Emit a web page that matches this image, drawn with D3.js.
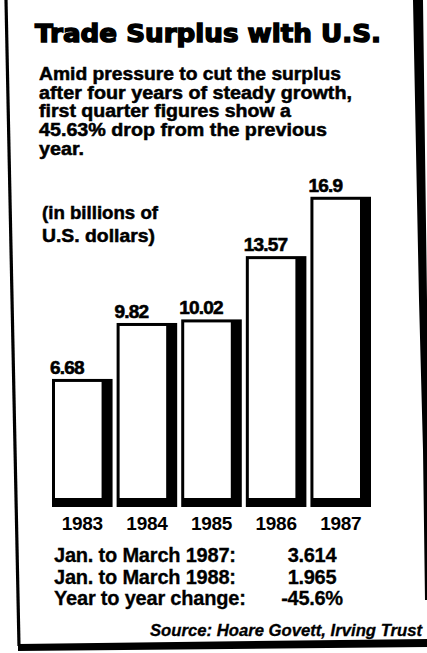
<!DOCTYPE html>
<html>
<head>
<meta charset="utf-8">
<script src="https://cdn.jsdelivr.net/npm/d3@7"></script>
<style>
  html, body { margin: 0; padding: 0; background: #fff; }
  svg { display: block; }
  text { fill: #000; font-family: "Liberation Sans", Arial, sans-serif; }
</style>
</head>
<body>
<script>
// ---- data ----
const years = ["1983", "1984", "1985", "1986", "1987"];
const values = [6.68, 9.82, 10.02, 13.57, 16.9];
const valueLabels = ["6.68", "9.82", "10.02", "13.57", "16.9"];
const titleText = "Trade Surplus with U.S.";
const subtitleLines = [
  "Amid pressure to cut the surplus",
  "after four years of steady growth,",
  "first quarter figures show a",
  "45.63% drop from the previous",
  "year."
];
const unitLines = ["(in billions of", "U.S. dollars)"];
const tableLabels = ["Jan. to March 1987:", "Jan. to March 1988:", "Year to year change:"];
const tableValues = ["3.614", "1.965", "-45.6%"];
const sourceText = "Source: Hoare Govett, Irving Trust";

// ---- layout ----
const W = 427, H = 653;
const svg = d3.select("body").append("svg").attr("width", W).attr("height", H);

const baseY = 498;      // bottom of the white bar interior
const shadowB = 9;      // bottom shadow thickness
const shadowR = 11;     // right shadow thickness
const stroke = 3;       // outline thickness

const x = d3.scaleBand().domain(years).range([52, 371]).paddingInner(0.0625);
const y = d3.scaleLinear().domain([0, 17]).range([baseY, 195]);

// frame (hand-drawn, slightly skewed)
svg.append("line").attr("x1", 6).attr("y1", 0).attr("x2", 19).attr("y2", 646)
  .attr("stroke", "#000").attr("stroke-width", 3.2);
svg.append("path")
  .attr("d", "M413,0 L423,0 L427,300 L427,600 L425,600 L423,450 L419,300 Z")
  .attr("fill", "#000");
svg.append("path")
  .attr("d", "M18,644 L427,639 L427,647 L18,651 Z")
  .attr("fill", "#000");

// title
svg.append("text")
  .attr("x", 35).attr("y", 42)
  .attr("textLength", 346).attr("lengthAdjust", "spacingAndGlyphs")
  .style("font-family", "'DejaVu Sans', sans-serif")
  .style("font-weight", "bold").style("font-size", "24px")
  .style("stroke", "#000").style("stroke-width", 1.4)
  .text(titleText);

// subtitle
const subWidths = [302, 313, 252, 288, 45];
const subY = [80, 98.5, 117, 136, 155];
svg.append("g").selectAll("text").data(subtitleLines).join("text")
  .attr("x", 39).attr("y", (d, i) => subY[i])
  .attr("textLength", (d, i) => subWidths[i]).attr("lengthAdjust", "spacingAndGlyphs")
  .style("font-weight", "bold").style("font-size", "18px")
  .style("stroke", "#000").style("stroke-width", 0.5)
  .text(d => d);

// units note
const unitY = [219, 242];
const unitW = [116, 113];
svg.append("g").selectAll("text").data(unitLines).join("text")
  .attr("x", 42).attr("y", (d, i) => unitY[i])
  .attr("textLength", (d, i) => unitW[i]).attr("lengthAdjust", "spacingAndGlyphs")
  .style("font-weight", "bold").style("font-size", "18px")
  .style("stroke", "#000").style("stroke-width", 0.5)
  .text(d => d);

// bars
const bars = svg.append("g").selectAll("g").data(values).join("g");
bars.append("rect")
  .attr("x", (d, i) => x(years[i]))
  .attr("y", d => y(d))
  .attr("width", x.bandwidth())
  .attr("height", d => baseY + shadowB - y(d))
  .attr("fill", "#000");
bars.append("rect")
  .attr("x", (d, i) => x(years[i]) + stroke)
  .attr("y", d => y(d) + stroke)
  .attr("width", x.bandwidth() - stroke - shadowR)
  .attr("height", d => baseY - y(d) - stroke)
  .attr("fill", "#fff");

// value labels
bars.append("text")
  .attr("x", (d, i) => x(years[i]) - 2)
  .attr("y", d => y(d) - 5)
  .style("font-weight", "bold").style("font-size", "19px")
  .style("letter-spacing", "-0.8px")
  .style("stroke", "#000").style("stroke-width", 0.6)
  .text((d, i) => valueLabels[i]);

// year axis
const axis = svg.append("g")
  .attr("transform", `translate(0,${baseY + shadowB})`)
  .call(d3.axisBottom(x).tickSize(0).tickPadding(10));
axis.select(".domain").remove();
axis.selectAll("text")
  .style("font-family", "'Liberation Sans', Arial, sans-serif")
  .style("font-size", "19px").style("font-weight", "bold")
  .style("letter-spacing", "-0.3px")
  .attr("fill", "#000");

// table
const rowY = [562, 583.5, 605];
svg.append("g").selectAll("text").data(tableLabels).join("text")
  .attr("x", 54).attr("y", (d, i) => rowY[i])
  .style("font-weight", "bold").style("font-size", "20px")
  .style("letter-spacing", "-0.2px")
  .style("stroke", "#000").style("stroke-width", 0.3)
  .text(d => d);
svg.append("g").selectAll("text").data(tableValues).join("text")
  .attr("x", 312).attr("y", (d, i) => rowY[i])
  .attr("text-anchor", "middle")
  .style("font-weight", "bold").style("font-size", "20px")
  .style("letter-spacing", "-0.3px")
  .style("stroke", "#000").style("stroke-width", 0.3)
  .text(d => d);

// source
svg.append("text")
  .attr("x", 150).attr("y", 636)
  .attr("textLength", 272).attr("lengthAdjust", "spacingAndGlyphs")
  .style("font-weight", "bold").style("font-style", "italic").style("font-size", "16px")
  .style("stroke", "#000").style("stroke-width", 0.3)
  .text(sourceText);
</script>
</body>
</html>
